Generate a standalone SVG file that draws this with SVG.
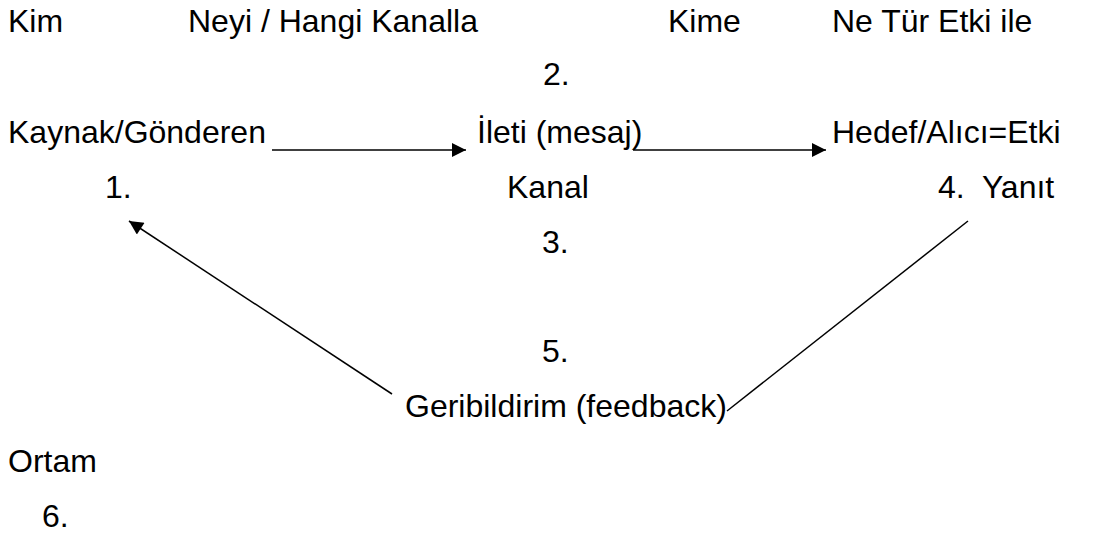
<svg xmlns="http://www.w3.org/2000/svg" width="1101" height="537" viewBox="0 0 1101 537">
  <style>
    text { font-family: "Liberation Sans", Arial, sans-serif; font-size: 32px; fill: #000; white-space: pre; }
    .conn { stroke: #000; stroke-width: 1.5; fill: none; }
  </style>
  <defs>
    <marker id="arrow" viewBox="0 0 10 10" refX="10" refY="5" markerWidth="17" markerHeight="14" markerUnits="userSpaceOnUse" orient="auto">
      <path d="M0,0 L10,5 L0,10 Z" fill="#000"/>
    </marker>
  </defs>
  <rect width="1101" height="537" fill="#fff"/>

  <!-- column headings -->
  <g id="headings">
    <text x="8" y="32">Kim</text>
    <text x="188" y="32">Neyi / Hangi Kanalla</text>
    <text x="668" y="32">Kime</text>
    <text x="832" y="32">Ne Tür Etki ile</text>
  </g>

  <g id="source">
    <text x="8" y="143">Kaynak/Gönderen</text>
    <text x="105" y="198">1.</text>
  </g>

  <g id="message">
    <text x="543" y="85">2.</text>
    <text x="477" y="143">İleti (mesaj)</text>
    <text x="507" y="198">Kanal</text>
    <text x="542" y="253">3.</text>
  </g>

  <g id="receiver">
    <text x="832" y="143">Hedef/Alıcı=Etki</text>
    <text x="938" y="198">4.  Yanıt</text>
  </g>

  <g id="feedback">
    <text x="542" y="362">5.</text>
    <text x="405" y="417">Geribildirim (feedback)</text>
  </g>

  <g id="environment">
    <text x="8" y="472">Ortam</text>
    <text x="42" y="527">6.</text>
  </g>

  <g id="connectors">
    <line class="conn" x1="272" y1="150" x2="466" y2="150" marker-end="url(#arrow)"/>
    <line class="conn" x1="633" y1="150" x2="826" y2="150" marker-end="url(#arrow)"/>
    <line class="conn" x1="727" y1="411" x2="968" y2="221"/>
    <line class="conn" x1="392" y1="394" x2="129" y2="221" marker-end="url(#arrow)"/>
  </g>
</svg>
